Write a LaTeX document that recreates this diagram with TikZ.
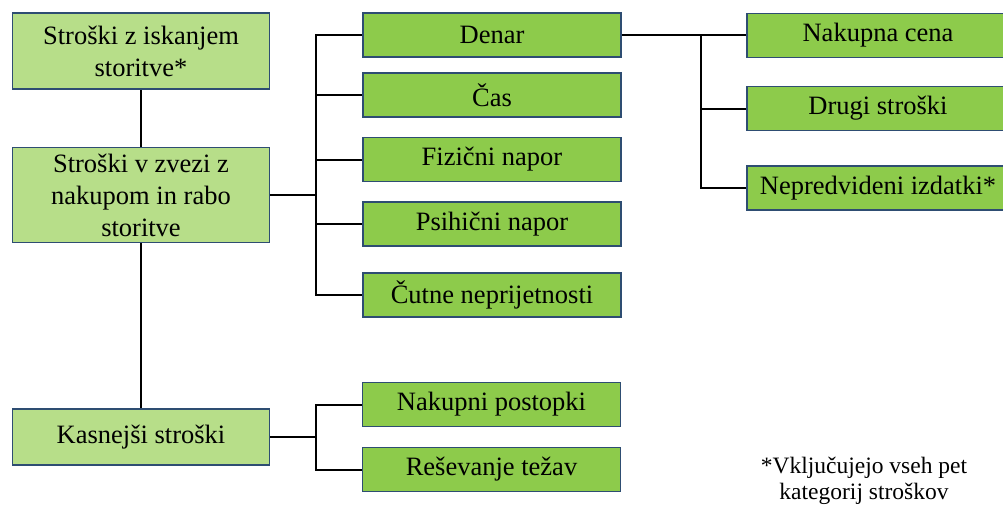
\documentclass[tikz,border=0pt]{standalone}
\usepackage{fontspec}
\setmainfont{Liberation Serif}
\newfontfamily\timesface{Liberation Serif}
\definecolor{paleleaf}{HTML}{B7DE89}
\definecolor{leaf}{HTML}{8DCB4B}
\definecolor{edge}{HTML}{2E4D72}
\tikzset{
  basebox/.style={draw=edge, line width=1.6pt, inner sep=0pt, align=center,
    font=\timesface\fontsize{26.5}{32}\selectfont},
  lbox/.style={basebox, fill=paleleaf, minimum width=257pt},
  mbox/.style={basebox, fill=leaf, minimum width=258pt, minimum height=44pt},
  rbox/.style={basebox, fill=leaf, minimum width=262pt, minimum height=44pt},
  link/.style={line width=2pt, black},
}
\begin{document}
\begin{tikzpicture}[x=1pt,y=-1pt]
\useasboundingbox (0,0) rectangle (1003,504);

% main cost groups
\node[lbox, minimum height=76pt] (search) at (141,51) {Stroški z iskanjem\\storitve*};
\node[lbox, minimum height=95pt] (use) at (141,195) {Stroški v zvezi z\\nakupom in rabo\\storitve};
\node[lbox, minimum height=56pt] (later) at (141,437) {Kasnejši stroški};

% purchase and use costs
\node[mbox] (money) at (492,35) {Denar};
\node[mbox] (time) at (492,95) {Čas};
\node[mbox] (phys) at (492,159.5) {Fizični napor};
\node[mbox] (psych) at (492,224) {Psihični napor};
\node[mbox] (sense) at (492,295) {Čutne neprijetnosti};

% money breakdown
\node[rbox] (price) at (878,35.5) {Nakupna cena};
\node[rbox] (other) at (878,108.5) {Drugi stroški};
\node[rbox] (unexp) at (878,188) {Nepredvideni izdatki*};

% later costs
\node[mbox] (proc) at (491.5,404.5) {Nakupni postopki};
\node[mbox] (solve) at (491.5,469.5) {Reševanje težav};

% footnote
\node[align=center, inner sep=0pt, font=\timesface\fontsize{23.5}{26}\selectfont] (note) at (864,481)
  {*Vključujejo vseh pet\\kategorij stroškov};

% junction points
\coordinate (j1) at (316,195);
\coordinate (j2) at (701,35);
\coordinate (j3) at (316,437);

% connectors
\draw[link] (search.south) -- (use.north);
\draw[link] (use.south) -- (later.north);

\draw[link] (use.east) -- (j1);
\draw[link] (money.west) -| (j1) |- (sense.west);
\draw[link] (time.west) -- (time.west -| j1);
\draw[link] (phys.west) -- (phys.west -| j1);
\draw[link] (psych.west) -- (psych.west -| j1);

\draw[link] (money.east) -- (price.west |- money.east);
\draw[link] (j2) |- (unexp.west);
\draw[link] (other.west) -- (other.west -| j2);

\draw[link] (later.east) -- (j3);
\draw[link] (proc.west) -| (j3) |- (solve.west);
\end{tikzpicture}
\end{document}
